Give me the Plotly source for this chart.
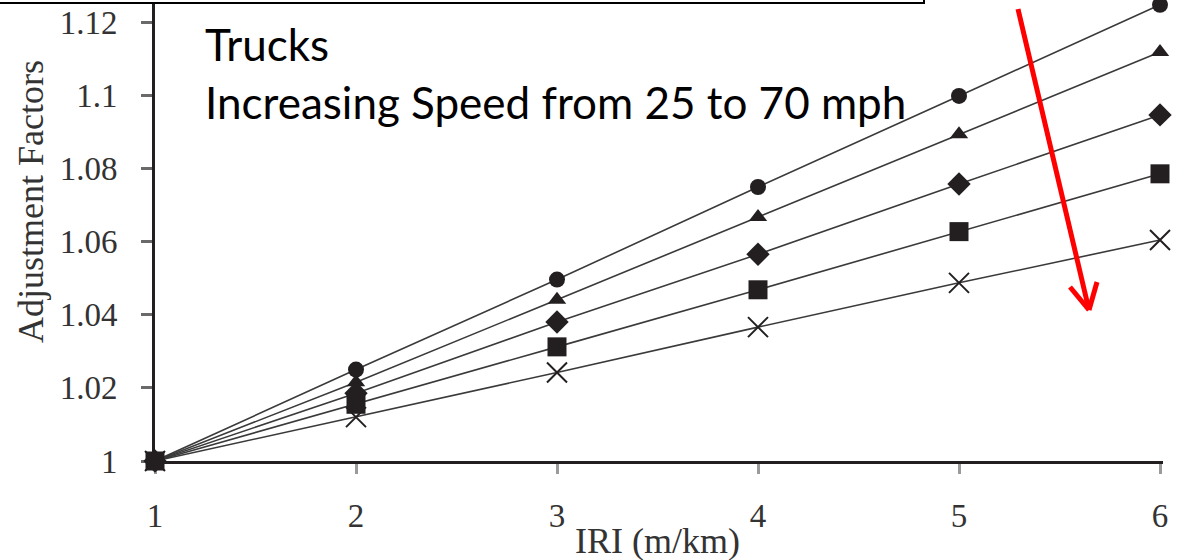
import plotly.graph_objects as go

# ---- data ----
iri = [1, 2, 3, 4, 5, 6]
speed_25 = [1.0, 1.0250, 1.0496, 1.0749, 1.0998, 1.1247]   # circles
speed_a = [1.0, 1.0215, 1.0441, 1.0667, 1.0893, 1.1118]    # triangles
speed_b = [1.0, 1.0185, 1.0380, 1.0565, 1.0757, 1.0946]    # diamonds
speed_c = [1.0, 1.0155, 1.0312, 1.0468, 1.0627, 1.0785]    # squares
speed_70 = [1.0, 1.0120, 1.0242, 1.0366, 1.0487, 1.0604]   # crosses
y_tickvals = [1.0, 1.02, 1.04, 1.06, 1.08, 1.10, 1.12]
y_ticktext = ["1", "1.02", "1.04", "1.06", "1.08", "1.1", "1.12"]
x_tickvals = [1, 2, 3, 4, 5, 6]

W, H = 1184, 560
L, R, T, B = 155, 1163, 0, 461
INK = "#231f20"

def px(x, y):
    return (x - L) / (R - L), (B - y) / (B - T)

fig = go.Figure()

series = [
    (speed_70, "x-thin", 20),
    (speed_25, "circle", 16),
    (speed_a, "triangle-up", 16),
    (speed_b, "diamond", 18),
    (speed_c, "square", 19),
]
for vals, sym, size in series:
    marker = dict(symbol=sym, size=size, color=INK)
    if sym == "x-thin":
        marker["line"] = dict(color=INK, width=2)
    else:
        marker["line"] = dict(color=INK, width=0)
    fig.add_trace(go.Scatter(
        x=iri, y=vals, mode="lines+markers",
        line=dict(color="#3a3a3a", width=1.6),
        marker=marker, cliponaxis=False, showlegend=False,
    ))

tickfont = dict(family="Liberation Serif, Times New Roman, serif", size=33, color="#333333")

fig.update_xaxes(
    range=[1, 6 + 3 / 201], tickvals=x_tickvals, ticktext=[str(v) for v in x_tickvals],
    showline=True, linecolor=INK, linewidth=3, showgrid=False, zeroline=False,
    ticks="outside", ticklen=10, tickwidth=3, tickcolor="#9a9a9a",
    tickfont=tickfont, ticklabelstandoff=13, layer="below traces",
)
fig.update_yaxes(
    range=[1, 1 + 461 / 3658.3], tickvals=y_tickvals, ticktext=y_ticktext,
    showline=True, linecolor=INK, linewidth=3, showgrid=False, zeroline=False,
    ticks="outside", ticklen=11, tickwidth=3, tickcolor="#6a6a6a",
    tickfont=tickfont, ticklabelstandoff=17, layer="below traces",
)

shapes = []
# top-left text box border (mostly cut off)
x0, y0 = px(-10, -60)
x1, y1 = px(924, 3)
shapes.append(dict(type="rect", xref="paper", yref="paper", x0=x0, y0=y0, x1=x1, y1=y1,
                   line=dict(color="black", width=2), fillcolor="white", layer="above"))
# red arrow
ax0, ay0 = px(1018, 9)
ax1, ay1 = px(1089, 310)
hl_x, hl_y = px(1070, 287)
hr_x, hr_y = px(1097, 282)
for (sx, sy, ex, ey) in [(ax0, ay0, ax1, ay1), (hl_x, hl_y, ax1, ay1), (hr_x, hr_y, ax1, ay1)]:
    shapes.append(dict(type="line", xref="paper", yref="paper", x0=sx, y0=sy, x1=ex, y1=ey,
                       line=dict(color="#ff0000", width=5), layer="above"))

annfont = dict(family="Lato, Open Sans, sans-serif", size=44, color="black")
annotations = []
tx, ty = px(203, 44)
annotations.append(dict(text="Trucks", xref="paper", yref="paper", x=tx, y=ty,
                        xanchor="left", yanchor="middle", showarrow=False, font=annfont))
tx, ty = px(203, 102)
annotations.append(dict(text="Increasing Speed from 25 to 70 mph", xref="paper", yref="paper",
                        x=tx, y=ty, xanchor="left", yanchor="middle", showarrow=False, font=annfont))
titlefont = dict(family="Liberation Serif, Times New Roman, serif", size=36, color="#333333")
tx, ty = px(31, 202)
annotations.append(dict(text="Adjustment Factors", xref="paper", yref="paper", x=tx, y=ty,
                        xanchor="center", yanchor="middle", textangle=-90, showarrow=False,
                        font=titlefont))
tx, ty = px(657, 541)
annotations.append(dict(text="IRI (m/km)", xref="paper", yref="paper", x=tx, y=ty,
                        xanchor="center", yanchor="middle", showarrow=False, font=titlefont))

fig.update_layout(
    width=W, height=H,
    margin=dict(l=L, r=W - R, t=T, b=H - B, autoexpand=False),
    paper_bgcolor="white", plot_bgcolor="white",
    shapes=shapes, annotations=annotations,
)

fig.write_html("out.html", config={"displayModeBar": False},
               post_script="document.body.style.margin='0';document.body.style.overflow='hidden';")
